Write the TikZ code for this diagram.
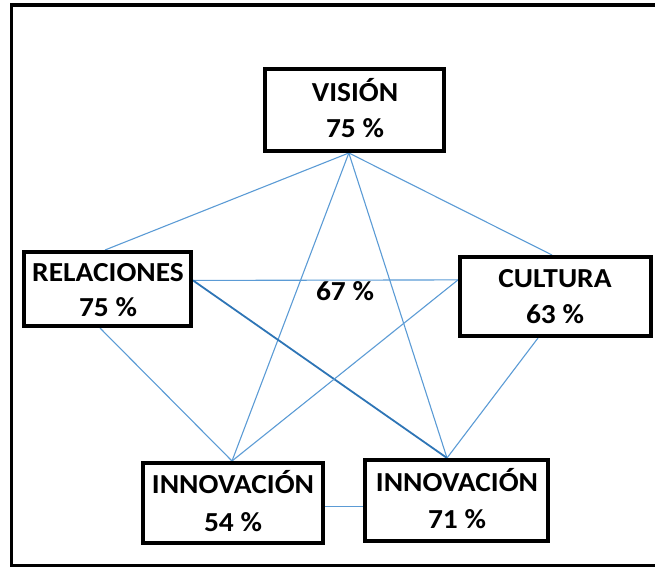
\documentclass[tikz,border=0pt]{standalone}
\usepackage{fontspec}
\usepackage{graphicx}
\setmainfont{Carlito}
\usetikzlibrary{calc,backgrounds}
\definecolor{lblue}{HTML}{5B9BD5}
\definecolor{dblue}{HTML}{2E75B6}
\newcommand{\wide}[1]{\scalebox{1.07}[1]{#1}}
\begin{document}
\begin{tikzpicture}[x=1pt,y=-1pt,
  box/.style={draw=black,line width=4pt,inner sep=0pt,fill=white},
  lab/.style={anchor=base,inner sep=0pt,font=\fontsize{27.5}{32}\selectfont\bfseries},
  conn/.style={draw=lblue,line width=1.1pt},
  connd/.style={draw=dblue,line width=1.8pt}]
\useasboundingbox (0,0) rectangle (655,567);
% frame
\draw[line width=3.5pt] (655,5) -- (11.5,5) -- (11.5,565.5) -- (655,565.5);
% boxes
\node[box,minimum width=179pt,minimum height=82pt] (vis) at (354.5,110) {};
\node[box,minimum width=167pt,minimum height=74pt] (rel) at (107.5,289) {};
\node[box,minimum width=191pt,minimum height=79pt] (cul) at (555.5,296.5) {};
\node[box,minimum width=180pt,minimum height=80pt] (ia) at (233,503) {};
\node[box,minimum width=183pt,minimum height=81pt] (ib) at (456.5,500.5) {};
% labels
\node[lab] (vis1) at (355,102) {\wide{VISIÓN}};
\node[lab] (vis2) at (355,137) {\wide{75 \%}};
\node[lab] (rel1) at (108,281) {\wide{RELACIONES}};
\node[lab] (rel2) at (108,316) {\wide{75 \%}};
\node[lab] (cul1) at (555,287) {\wide{CULTURA}};
\node[lab] (cul2) at (555,323) {\wide{63 \%}};
\node[lab] (ia1) at (233,493) {\wide{INNOVACIÓN}};
\node[lab] (ia2) at (233,531) {\wide{54 \%}};
\node[lab] (ib1) at (457,491) {\wide{INNOVACIÓN}};
\node[lab] (ib2) at (457,528) {\wide{71 \%}};
\node[lab] (mid) at (345,300) {\wide{67 \%}};
% connectors
\begin{scope}[on background layer]
\coordinate (vb) at ($(vis.south west)!0.469!(vis.south east)$);
\coordinate (rr) at ($(rel.north east)!0.39!(rel.south east)$);
\coordinate (cl) at ($(cul.north west)!0.30!(cul.south west)$);
\coordinate (ir) at ($(ia.north east)!0.54!(ia.south east)$);
\draw[conn] (vb) -- ([xshift=-2.5pt]rel.north);
\draw[conn] (vb) -- ([xshift=-3.5pt]cul.north);
\draw[conn] (vb) -- ([xshift=-1pt]ia.north);
\draw[conn] (vb) -- ([xshift=-9.5pt]ib.north);
\draw[conn] (rr) -- (cl);
\draw[connd] (rr) -- ([xshift=-9.5pt]ib.north);
\draw[conn] ([xshift=-7.5pt]rel.south) -- ([xshift=-1pt]ia.north);
\draw[conn] (cl) -- ([xshift=-1pt]ia.north);
\draw[conn] ([xshift=-17.5pt]cul.south) -- ([xshift=-9.5pt]ib.north);
\draw[conn] (ir) -- (ir -| ib.west);
\end{scope}
\end{tikzpicture}
\end{document}
